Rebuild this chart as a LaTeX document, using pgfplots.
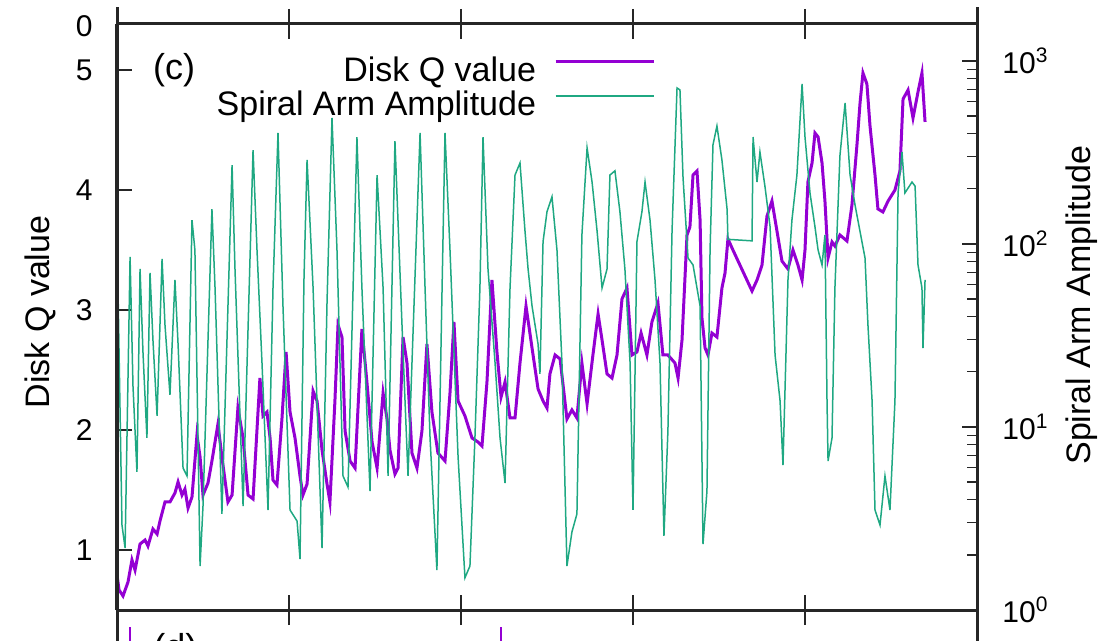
\documentclass[border=0pt]{standalone}
\usepackage{pgfplots}
\pgfplotsset{compat=1.18}
\usepackage{fontspec}
\setmainfont{Liberation Sans}
\definecolor{qpurple}{HTML}{9400D3}
\definecolor{ateal}{HTML}{1FA882}
\definecolor{axgray}{HTML}{262626}
\begin{document}
\begin{tikzpicture}
\path[use as bounding box] (-58.5bp,-15.5bp) rectangle (494.5bp,305bp);
% frame with centred x ticks
\begin{axis}[
  scale only axis, width=430bp, height=293bp,
  xmin=0, xmax=5, ymin=0, ymax=1,
  xtick={0,1,2,3,4,5}, xticklabels={},
  ytick=\empty,
  tick align=center, major tick length=15bp,
  xtick style={line width=0.6bp, axgray},
  axis line style={line width=1.5bp, axgray},
]
\end{axis}
% Disk Q value (left axis)
\begin{axis}[
  scale only axis, width=430bp, height=293bp,
  xmin=0, xmax=5, ymin=0.5, ymax=5.3833,
  hide x axis,
  ytick={1,2,3,4,5}, ytick pos=left,
  tick align=inside, major tick length=7.5bp,
  ytick style={line width=0.6bp, axgray},
  axis line style={line width=1.5bp, axgray},
  yticklabel style={font=\fontsize{15bp}{18bp}\selectfont, /pgf/number format/assume math mode=true, inner sep=0pt, xshift=-12bp},
  ylabel={Disk Q value},
  every axis y label/.style={at={(axis description cs:0,0.5)}, xshift=-38.5bp, yshift=2.5bp, rotate=90, anchor=center, font=\fontsize{17bp}{20bp}\selectfont},
]
\addplot[qpurple, line width=1.5bp] coordinates {
(0.000,0.792)(0.012,0.667)(0.035,0.617)(0.064,0.733)(0.087,0.917)(0.105,0.833)(0.134,1.050)(0.163,1.083)(0.180,1.033)(0.209,1.175)(0.233,1.133)(0.250,1.242)(0.279,1.400)(0.308,1.400)(0.337,1.475)(0.355,1.567)(0.378,1.458)(0.395,1.508)(0.413,1.350)(0.436,1.442)(0.465,1.958)(0.483,1.775)(0.500,1.458)(0.529,1.558)(0.552,1.742)(0.587,2.050)(0.610,1.775)(0.645,1.400)(0.669,1.458)(0.703,2.183)(0.733,1.933)(0.762,1.458)(0.791,1.425)(0.831,2.433)(0.849,2.117)(0.872,2.150)(0.890,1.933)(0.907,1.583)(0.930,1.542)(0.959,2.092)(0.983,2.650)(1.006,2.150)(1.035,1.933)(1.064,1.617)(1.081,1.458)(1.105,1.550)(1.140,2.325)(1.163,2.242)(1.192,1.833)(1.221,1.550)(1.238,1.400)(1.267,2.242)(1.285,2.875)(1.308,2.775)(1.326,1.992)(1.355,1.742)(1.384,1.683)(1.424,2.842)(1.453,2.400)(1.483,1.900)(1.512,1.683)(1.547,2.308)(1.570,2.092)(1.587,1.833)(1.616,1.633)(1.634,1.683)(1.663,2.775)(1.686,2.558)(1.715,1.808)(1.744,1.683)(1.773,1.992)(1.802,2.717)(1.831,2.150)(1.866,1.808)(1.907,1.742)(1.936,2.308)(1.959,2.900)(1.983,2.242)(2.023,2.117)(2.064,1.933)(2.099,1.900)(2.122,1.867)(2.151,2.400)(2.180,3.250)(2.209,2.650)(2.233,2.275)(2.256,2.400)(2.285,2.100)(2.314,2.100)(2.343,2.558)(2.378,3.033)(2.413,2.683)(2.448,2.342)(2.477,2.242)(2.500,2.183)(2.517,2.467)(2.547,2.625)(2.576,2.592)(2.616,2.092)(2.645,2.167)(2.674,2.100)(2.703,2.558)(2.733,2.217)(2.767,2.625)(2.797,2.967)(2.820,2.750)(2.849,2.467)(2.878,2.433)(2.907,2.625)(2.936,3.092)(2.965,3.183)(2.994,2.625)(3.023,2.650)(3.047,2.808)(3.081,2.625)(3.110,2.900)(3.145,3.058)(3.174,2.625)(3.203,2.625)(3.244,2.558)(3.262,2.433)(3.285,2.750)(3.314,3.625)(3.331,3.692)(3.349,4.125)(3.372,4.158)(3.390,3.750)(3.401,2.933)(3.419,2.683)(3.436,2.625)(3.459,2.808)(3.488,2.775)(3.517,3.183)(3.535,3.308)(3.552,3.592)(3.581,3.500)(3.692,3.158)(3.721,3.250)(3.750,3.375)(3.779,3.783)(3.808,3.908)(3.837,3.658)(3.866,3.408)(3.901,3.342)(3.930,3.500)(3.959,3.375)(3.983,3.250)(4.000,3.500)(4.017,4.067)(4.041,4.225)(4.058,4.475)(4.076,4.442)(4.099,4.225)(4.116,3.908)(4.134,3.433)(4.157,3.567)(4.174,3.533)(4.203,3.625)(4.244,3.575)(4.273,3.875)(4.302,4.375)(4.320,4.725)(4.337,4.975)(4.360,4.883)(4.378,4.533)(4.407,4.125)(4.424,3.842)(4.453,3.817)(4.483,3.908)(4.523,4.000)(4.552,4.158)(4.570,4.758)(4.599,4.833)(4.628,4.600)(4.657,4.817)(4.680,4.975)(4.698,4.567)
};
\end{axis}
% Spiral arm amplitude (right log axis)
\begin{axis}[
  scale only axis, width=430bp, height=293bp,
  xmin=0, xmax=5, ymode=log, ymin=1, ymax=1592,
  hide x axis,
  ytick={1,10,100,1000},
  yticklabels={10\textsuperscript{0},10\textsuperscript{1},10\textsuperscript{2},10\textsuperscript{3}},
  minor ytick={2,3,4,5,6,7,8,9,20,30,40,50,60,70,80,90,200,300,400,500,600,700,800,900},
  ytick pos=right, yticklabel pos=right,
  tick align=inside, major tick length=7.5bp, minor tick length=5bp,
  ytick style={line width=0.6bp, axgray},
  axis line style={line width=1.5bp, axgray},
  yticklabel style={font=\fontsize{15bp}{18bp}\selectfont, inner sep=0pt, xshift=12.5bp},
  ylabel={Spiral Arm Amplitude},
  every axis y label/.style={at={(axis description cs:1,0.5)}, xshift=52.5bp, yshift=6bp, rotate=90, anchor=center, font=\fontsize{17bp}{20bp}\selectfont},
  legend style={at={(0.6256,0.942)}, anchor=north east, draw=none, fill=none, inner sep=0pt, outer sep=0pt, column sep=9bp, row sep=0pt, font=\fontsize{17bp}{17bp}\selectfont, nodes={inner sep=0pt, text height=12bp, text depth=5bp}},
  legend cell align=right,
  legend plot pos=right,
  legend image code/.code={\draw[#1] (0bp,6.5bp) -- (49bp,6.5bp);},
]
\addlegendimage{qpurple, line width=1.5bp}
\addlegendentry{Disk Q value}
\addplot[ateal, line width=0.75bp] coordinates {
(0.000,119)(0.029,2.91)(0.047,2.18)(0.076,84.9)(0.093,16.7)(0.116,5.68)(0.134,73.0)(0.151,25.7)(0.174,8.71)(0.192,69.5)(0.209,29.9)(0.233,11.5)(0.262,82.8)(0.279,36.1)(0.308,15.0)(0.337,63.6)(0.355,28.4)(0.384,5.97)(0.407,5.40)(0.436,135)(0.453,92.7)(0.483,1.74)(0.500,3.70)(0.552,155)(0.570,57.5)(0.610,3.35)(0.669,270)(0.686,73.0)(0.733,3.70)(0.791,326)(0.814,92.7)(0.843,22.4)(0.878,3.52)(0.907,57.5)(0.936,404)(0.965,45.8)(1.006,3.52)(1.047,3.06)(1.064,1.90)(1.087,63.6)(1.105,288)(1.140,57.5)(1.192,2.18)(1.221,47.6)(1.250,488)(1.279,92.7)(1.314,5.40)(1.343,4.70)(1.395,384)(1.424,57.5)(1.471,4.47)(1.512,238)(1.547,57.5)(1.576,5.40)(1.616,365)(1.657,36.1)(1.692,5.40)(1.715,22.4)(1.762,404)(1.791,57.5)(1.820,8.71)(1.860,1.65)(1.890,57.5)(1.907,404)(1.936,92.7)(1.983,6.86)(2.023,1.50)(2.052,1.74)(2.081,8.71)(2.110,57.5)(2.128,384)(2.157,73.0)(2.198,22.4)(2.227,8.71)(2.256,4.94)(2.285,57.5)(2.314,238)(2.343,277)(2.372,118)(2.390,73.0)(2.413,45.8)(2.448,28.4)(2.459,19.5)(2.477,103)(2.500,150)(2.529,181)(2.558,92.7)(2.587,22.4)(2.616,1.74)(2.645,2.67)(2.674,3.35)(2.703,112)(2.733,335)(2.762,218)(2.791,118)(2.820,57.5)(2.849,73.0)(2.866,238)(2.895,251)(2.924,150)(2.953,73.0)(2.983,22.4)(3.000,3.52)(3.023,103)(3.052,150)(3.070,218)(3.099,135)(3.128,63.6)(3.157,22.4)(3.180,2.54)(3.203,9.51)(3.227,118)(3.256,712)(3.273,695)(3.291,229)(3.320,83.8)(3.349,76.8)(3.390,45.8)(3.407,2.29)(3.430,4.47)(3.448,92.7)(3.465,348)(3.488,441)(3.517,288)(3.547,155)(3.552,106)(3.692,104)(3.698,384)(3.721,218)(3.738,318)(3.767,207)(3.797,124)(3.826,24.7)(3.855,13.9)(3.872,6.20)(3.901,63.6)(3.924,135)(3.953,238)(3.983,749)(4.000,384)(4.029,190)(4.058,124)(4.076,92.7)(4.099,76.8)(4.116,112)(4.128,13.9)(4.134,6.52)(4.157,8.71)(4.174,57.5)(4.203,303)(4.233,589)(4.262,238)(4.291,163)(4.349,83.8)(4.366,36.1)(4.390,13.9)(4.407,3.52)(4.436,2.91)(4.465,5.40)(4.494,3.52)(4.523,13.9)(4.541,190)(4.564,318)(4.581,190)(4.622,218)(4.640,207)(4.657,76.8)(4.680,57.5)(4.686,27.0)(4.698,63.6)
};
\addlegendentry{Spiral Arm Amplitude}
\end{axis}
% shared panel edges extending beyond this panel
\draw[line width=1.5bp, axgray] (0bp,-15.5bp) -- (0bp,301.5bp);
\draw[line width=1.5bp, axgray] (430bp,-15.5bp) -- (430bp,301.5bp);
\node[font=\fontsize{18bp}{18bp}\selectfont] at (28.5bp,270bp) {(c)};
\node[anchor=east, inner sep=0pt, font=\fontsize{15bp}{18bp}\selectfont] at (-12bp,292bp) {0};
\node[anchor=north west, inner sep=0pt, font=\fontsize{18bp}{18bp}\selectfont] at (18bp,-11.5bp) {(d)};
\draw[qpurple, line width=1bp] (6.5bp,-8.5bp) -- (6.5bp,-15.5bp);
\draw[qpurple, line width=1bp] (192bp,-8.5bp) -- (192bp,-15.5bp);
\end{tikzpicture}
\end{document}
